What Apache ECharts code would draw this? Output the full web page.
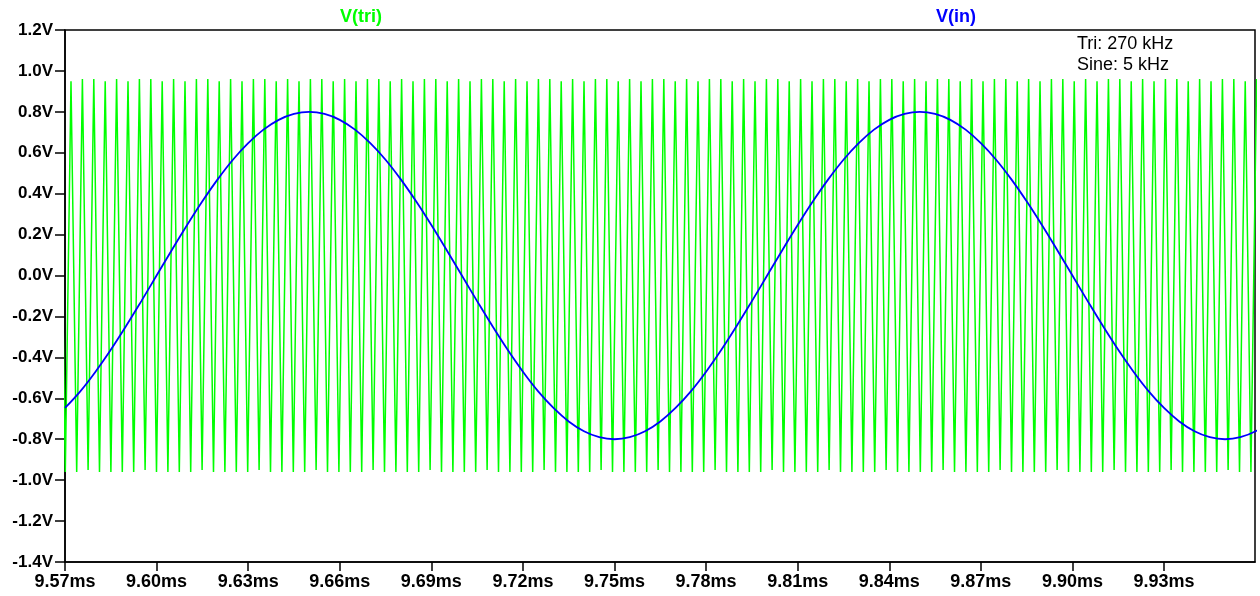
<!DOCTYPE html>
<html>
<head>
<meta charset="utf-8">
<script src="https://cdn.jsdelivr.net/npm/echarts@6/dist/echarts.min.js"></script>
<style>
  html, body { margin: 0; padding: 0; background: #fff; }
  #chart { width: 1260px; height: 596px; }
</style>
</head>
<body>
<div id="chart"></div>
<script>
// Transient window, in milliseconds
const timeMin = 9.57;
const timeMax = 9.9598;
const timeTick = 0.03;

// V(tri): triangle vertices sampled every half period (ms), starting at a peak
const triStart = 9.56823;
const triHalfPeriod = 0.00186715;
const triVertices = [
  0.96, -0.96, 0.95, -0.96, 0.96, -0.95, 0.96, -0.96, 0.95, -0.96,
  0.96, -0.96, 0.95, -0.96, 0.96, -0.95, 0.96, -0.96, 0.95, -0.96,
  0.96, -0.96, 0.95, -0.96, 0.96, -0.95, 0.96, -0.96, 0.95, -0.96,
  0.96, -0.96, 0.95, -0.96, 0.96, -0.95, 0.96, -0.96, 0.95, -0.96,
  0.96, -0.96, 0.95, -0.96, 0.96, -0.95, 0.96, -0.96, 0.95, -0.96,
  0.96, -0.96, 0.95, -0.96, 0.96, -0.95, 0.96, -0.96, 0.95, -0.96,
  0.96, -0.96, 0.95, -0.96, 0.96, -0.95, 0.96, -0.96, 0.95, -0.96,
  0.96, -0.96, 0.95, -0.96, 0.96, -0.95, 0.96, -0.96, 0.95, -0.96,
  0.96, -0.96, 0.95, -0.96, 0.96, -0.95, 0.96, -0.96, 0.95, -0.96,
  0.96, -0.96, 0.95, -0.96, 0.96, -0.95, 0.96, -0.96, 0.95, -0.96,
  0.96, -0.96, 0.95, -0.96, 0.96, -0.95, 0.96, -0.96, 0.95, -0.96,
  0.96, -0.96, 0.95, -0.96, 0.96, -0.95, 0.96, -0.96, 0.95, -0.96,
  0.96, -0.96, 0.95, -0.96, 0.96, -0.95, 0.96, -0.96, 0.95, -0.96,
  0.96, -0.96, 0.95, -0.96, 0.96, -0.95, 0.96, -0.96, 0.95, -0.96,
  0.96, -0.96, 0.95, -0.96, 0.96, -0.95, 0.96, -0.96, 0.95, -0.96,
  0.96, -0.96, 0.95, -0.96, 0.96, -0.95, 0.96, -0.96, 0.95, -0.96,
  0.96, -0.96, 0.95, -0.96, 0.96, -0.95, 0.96, -0.96, 0.95, -0.96,
  0.96, -0.96, 0.95, -0.96, 0.96, -0.95, 0.96, -0.96, 0.95, -0.96,
  0.96, -0.96, 0.95, -0.96, 0.96, -0.95, 0.96, -0.96, 0.95, -0.96,
  0.96, -0.96, 0.95, -0.96, 0.96, -0.95, 0.96, -0.96, 0.95, -0.96,
  0.96, -0.96, 0.95, -0.96, 0.96, -0.95, 0.96, -0.96, 0.95, -0.96,
  0.96
];

// V(in): 5 kHz sine sampled every 5 us starting at 9.57 ms
const sineStart = 9.57;
const sineStep = 0.005;
const sineValues = [
  -0.647, -0.566, -0.470, -0.363, -0.247, -0.125, 0.000, 0.125, 0.247, 0.363,
   0.470,  0.566,  0.647,  0.713,  0.761,  0.790, 0.800, 0.790, 0.761, 0.713,
   0.647,  0.566,  0.470,  0.363,  0.247,  0.125, 0.000, -0.125, -0.247, -0.363,
  -0.470, -0.566, -0.647, -0.713, -0.761, -0.790, -0.800, -0.790, -0.761, -0.713,
  -0.647, -0.566, -0.470, -0.363, -0.247, -0.125, 0.000, 0.125, 0.247, 0.363,
   0.470,  0.566,  0.647,  0.713,  0.761,  0.790, 0.800, 0.790, 0.761, 0.713,
   0.647,  0.566,  0.470,  0.363,  0.247,  0.125, 0.000, -0.125, -0.247, -0.363,
  -0.470, -0.566, -0.647, -0.713, -0.761, -0.790, -0.800, -0.790, -0.761, -0.713
];

// Vertical scale
const voltMin = -1.4;
const voltMax = 1.2;
const voltTick = 0.2;

// Trace names and annotation lines
const traceNames = ['V(tri)', 'V(in)'];
const noteLines = ['Tri: 270 kHz', 'Sine: 5 kHz'];

const triData = triVertices.map((v, i) => [triStart + i * triHalfPeriod, v]);
const sineData = sineValues.map((v, i) => [sineStart + i * sineStep, v]);

const chart = echarts.init(document.getElementById('chart'), null, { renderer: 'canvas' });

const labelFont = 'Arial, "Liberation Sans", sans-serif';

chart.setOption({
  animation: false,
  backgroundColor: '#ffffff',
  grid: {
    left: 65, right: 5, top: 30, bottom: 34,
    show: true, borderColor: '#000', borderWidth: 1.5, backgroundColor: 'transparent'
  },
  xAxis: {
    type: 'value',
    min: timeMin, max: timeMax, interval: timeTick,
    axisLine: { show: true, onZero: false, lineStyle: { color: '#000', width: 1.5 } },
    axisTick: { show: true, inside: false, length: 9, lineStyle: { color: '#000', width: 1.5 } },
    splitLine: { show: false },
    axisLabel: {
      margin: 11, color: '#000', fontSize: 18, fontWeight: 'bold', fontFamily: labelFont,
      showMaxLabel: false,
      formatter: v => v.toFixed(2) + 'ms'
    }
  },
  yAxis: {
    type: 'value',
    min: voltMin, max: voltMax, interval: voltTick,
    axisLine: { show: true, onZero: false, lineStyle: { color: '#000', width: 1.5 } },
    axisTick: { show: true, inside: false, length: 10, lineStyle: { color: '#000', width: 1.5 } },
    splitLine: { show: false },
    axisLabel: {
      margin: 12, color: '#000', fontSize: 17, fontWeight: 'bold', fontFamily: labelFont,
      formatter: v => v.toFixed(1) + 'V'
    }
  },
  series: [
    {
      name: traceNames[0], type: 'line', data: triData, showSymbol: false, clip: true,
      lineStyle: { color: '#00ff00', width: 1.5 }, z: 2
    },
    {
      name: traceNames[1], type: 'line', data: sineData, showSymbol: false, clip: true,
      smooth: 0.4,
      lineStyle: { color: '#0000ff', width: 1.8 }, z: 3
    }
  ],
  graphic: [
    { type: 'text', left: 340, top: 8,
      style: { text: traceNames[0], fill: '#00ff00', font: 'bold 18px ' + labelFont } },
    { type: 'text', left: 936, top: 8,
      style: { text: traceNames[1], fill: '#0000ff', font: 'bold 18px ' + labelFont } },
    { type: 'text', left: 1077, top: 35,
      style: { text: noteLines[0], fill: '#000', font: '18px ' + labelFont } },
    { type: 'text', left: 1077, top: 56,
      style: { text: noteLines[1], fill: '#000', font: '18px ' + labelFont } }
  ]
});
</script>
</body>
</html>
